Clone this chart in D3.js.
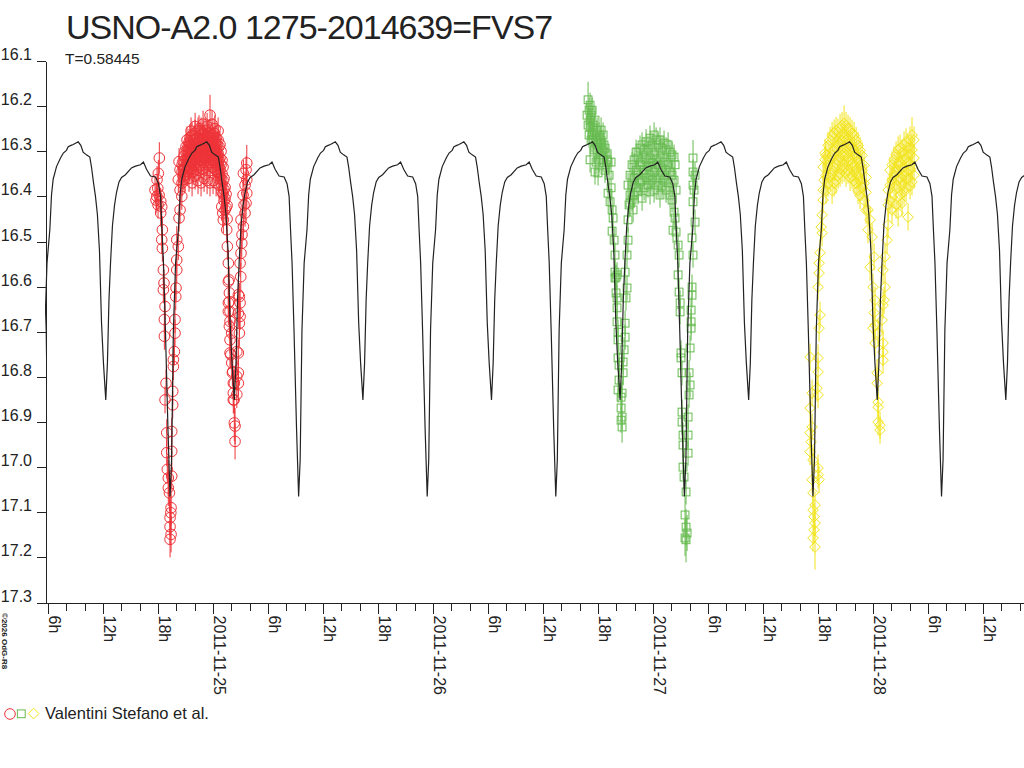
<!DOCTYPE html>
<html>
<head>
<meta charset="utf-8">
<script src="https://cdnjs.cloudflare.com/ajax/libs/d3/7.8.5/d3.min.js"></script>
<style>
body { margin:0; background:#fff; }
text { font-family: "Liberation Sans", Arial, sans-serif; fill:#222; }
</style>
</head>
<body>
<div id="chart"></div>
<script>

var title = "USNO-A2.0 1275-2014639=FVS7";
var periodLabel = "T=0.58445";
var observer = "Valentini Stefano et al.";
var copyright = "\u00a92026 OdG-R8";

var periodDays = 0.58445;
var epochMin = "2011-11-24T19:18:30Z";	// primary minimum used for the model curve
var refTime = "2011-11-25T00:00:00Z";	// observation hours are counted from here
var timeDomain = ["2011-11-24T05:40:00Z", "2011-11-28T16:28:00Z"];

var yTicks = [16.1, 16.2, 16.3, 16.4, 16.5, 16.6, 16.7, 16.8, 16.9, 17.0, 17.1, 17.2, 17.3];

// one cycle of the model light curve, phase 0 = primary minimum
var phase    = [0.000, 0.012, 0.026, 0.043, 0.065, 0.078, 0.091, 0.117, 0.148, 0.170, 0.194, 0.208, 0.230, 0.247, 0.272, 0.285, 0.306, 0.324, 0.350, 0.376, 0.389, 0.405, 0.420, 0.435, 0.451, 0.467, 0.482, 0.500, 0.513, 0.525, 0.537, 0.552, 0.568, 0.583, 0.603, 0.623, 0.653, 0.700, 0.731, 0.770, 0.793, 0.817, 0.848, 0.887, 0.910, 0.926, 0.937, 0.949, 0.964, 0.984];
var phaseMag = [17.065, 16.983, 16.696, 16.548, 16.474, 16.397, 16.362, 16.334, 16.315, 16.304, 16.298, 16.290, 16.287, 16.285, 16.281, 16.279, 16.287, 16.302, 16.308, 16.313, 16.335, 16.370, 16.400, 16.440, 16.520, 16.680, 16.769, 16.851, 16.769, 16.629, 16.548, 16.465, 16.420, 16.392, 16.368, 16.358, 16.352, 16.337, 16.333, 16.330, 16.324, 16.340, 16.355, 16.357, 16.372, 16.400, 16.474, 16.548, 16.696, 16.917];

// [hours from refTime, mag, error]
var redObs = [
[-6.33,16.386],[-6.22,16.408],[-6.11,16.363],[-6.14,16.400],[-6.03,16.382],[-6.00,16.419],[-5.97,16.349],[-5.89,16.397],[-5.86,16.315,.035],
[-5.71,16.411],[-5.60,16.423],[-5.71,16.437],[-5.53,16.474],[-5.60,16.496],[-5.53,16.515],[-5.42,16.563],[-5.35,16.592],[-5.42,16.607],
[-5.24,16.644],[-5.31,16.673],[-5.31,16.710],[-5.13,16.814],[-5.24,16.851],[-5.05,16.924],[-5.05,16.968],[-4.99,17.005],[-4.88,17.024,.04],
[-4.88,17.046,.04],[-4.76,17.057,.04],[-4.58,17.090,.04],[-4.69,17.112,.04],[-4.69,17.132,.04],[-4.58,17.149,.04],[-4.69,17.160,.04],
[-4.61,17.101,.04],[-4.51,17.020],[-4.51,16.965],[-4.51,16.921],[-4.40,16.862],[-4.40,16.832],[-4.33,16.777],[-4.33,16.762],[-4.22,16.744],
[-4.15,16.703],[-4.15,16.673],[-4.07,16.622],[-4.04,16.603],[-3.96,16.563],[-3.96,16.541],[-3.79,16.511],[-3.96,16.496],[-3.71,16.448],
[-3.60,16.430],[-3.41,16.400],[-3.60,16.386],[-3.79,16.363],[-3.60,16.341],[-3.71,16.323],
[-3.38,16.345],[-3.38,16.370],[-3.38,16.330],[-3.27,16.322],[-3.27,16.355],[-3.16,16.340],[-3.16,16.310],[-3.16,16.362],
[-3.05,16.300],[-3.05,16.335],[-3.05,16.352],[-2.95,16.318],[-2.95,16.290],[-2.95,16.345],[-2.84,16.300],[-2.84,16.330],[-2.84,16.275],
[-2.73,16.315],[-2.73,16.345],[-2.73,16.290],[-2.62,16.280],[-2.62,16.305],[-2.62,16.335],[-2.62,16.360],[-2.51,16.295],[-2.51,16.320],[-2.51,16.270],
[-2.40,16.310],[-2.40,16.340],[-2.40,16.285],[-2.40,16.255],[-2.29,16.265],[-2.29,16.300],[-2.29,16.325],[-2.29,16.370],[-2.18,16.290],[-2.18,16.315],[-2.18,16.345],
[-2.07,16.275],[-2.07,16.300],[-2.07,16.330],[-1.96,16.260],[-1.96,16.295],[-1.96,16.320],[-1.96,16.245],[-1.96,16.355],[-1.85,16.285],[-1.85,16.310],[-1.85,16.340],
[-1.75,16.270],[-1.75,16.300],[-1.75,16.325],[-1.64,16.255],[-1.64,16.290],[-1.64,16.315],[-1.64,16.365],[-1.53,16.280],[-1.53,16.305],[-1.53,16.335],[-1.53,16.250],
[-1.42,16.265],[-1.42,16.290],[-1.42,16.320],[-1.31,16.255],[-1.31,16.300],[-1.31,16.330],[-1.31,16.370],[-1.20,16.275],[-1.20,16.295],[-1.20,16.310],
[-1.09,16.260],[-1.09,16.285],[-1.09,16.340],[-1.09,16.240],[-0.98,16.270],[-0.98,16.300],[-0.98,16.325],[-0.98,16.360],[-0.87,16.255],[-0.87,16.290],[-0.87,16.315],
[-0.76,16.280],[-0.76,16.305],[-0.76,16.335],[-0.65,16.265],[-0.65,16.295],[-0.65,16.320],[-0.65,16.245],[-0.65,16.365],[-0.55,16.270],[-0.55,16.300],[-0.55,16.330],
[-0.44,16.260],[-0.44,16.285],[-0.44,16.310],[-0.33,16.270],[-0.33,16.295],[-0.33,16.325],[-0.33,16.370],[-0.33,16.220,.045],[-0.22,16.280],[-0.22,16.305],
[-0.11,16.265],[-0.11,16.290],[-0.11,16.320],[-0.11,16.240],[0.00,16.275],[0.00,16.300],[0.00,16.335],[0.00,16.365],[0.11,16.260],[0.11,16.295],[0.11,16.320],
[0.22,16.280],[0.22,16.310],[0.22,16.340],[0.22,16.250],[0.33,16.270],[0.33,16.300],[0.33,16.325],[0.33,16.370],[0.44,16.285],[0.44,16.315],[0.44,16.345],
[0.55,16.275],[0.55,16.305],[0.55,16.330],[0.55,16.255],[0.65,16.290],[0.65,16.320],[0.65,16.350],[0.65,16.375],[0.76,16.285],[0.76,16.315],[0.76,16.340],
[0.87,16.300],[0.87,16.330],[0.87,16.360],[0.98,16.320],[0.98,16.350],[0.98,16.375],[0.98,16.390],[1.09,16.335],[1.09,16.365],[1.09,16.395],
[1.20,16.360],[1.20,16.385],[1.20,16.410],[1.31,16.380],[1.31,16.405],[1.31,16.430],[1.42,16.395],[1.42,16.425],[1.53,16.420],[1.53,16.450],
[0.95,16.423],[1.06,16.437],[1.12,16.452],[1.49,16.474],[1.56,16.511],[1.67,16.548],[1.75,16.585],[1.67,16.589],[1.78,16.614],[1.78,16.633],
[1.67,16.636],[1.67,16.655],[1.85,16.655],[1.85,16.677],[1.78,16.688],[2.04,16.703],[1.85,16.718],[1.85,16.747],[1.93,16.751],[2.04,16.769],
[2.11,16.791],[2.15,16.788],[2.21,16.814],[2.32,16.814],[2.21,16.836],[2.21,16.851],[2.29,16.851],[2.32,16.902,.04],[2.40,16.909,.04],[2.40,16.943,.04],
[2.59,16.839],[2.59,16.799],[2.59,16.744],[2.76,16.814],[2.76,16.791],[2.76,16.747],[2.87,16.703],[2.87,16.681],[2.95,16.666],[2.76,16.659],
[2.95,16.636],[2.76,16.618],[2.87,16.622],[3.02,16.578],[2.95,16.548],[3.05,16.526],[3.13,16.504],[3.31,16.467],[3.49,16.437],[3.60,16.415],
[3.68,16.393],[3.68,16.363],[3.60,16.341],[3.68,16.326,.04],[3.31,16.349],[3.16,16.485],[3.38,16.419],[3.27,16.397],[3.49,16.375],[3.05,16.452]
];

var greenObs = [
[40.80,16.220],[40.91,16.186,.04],[40.91,16.242],[41.02,16.209],[41.02,16.264],[41.13,16.198],[41.13,16.231],[41.13,16.246],[41.13,16.319],
[41.24,16.220],[41.24,16.275],[41.35,16.264],[41.35,16.209],[41.45,16.275],[41.45,16.242],[41.56,16.253],[41.56,16.297],[41.67,16.231],
[41.67,16.346],[41.78,16.275],[41.78,16.324],[41.89,16.253],[41.89,16.297],[42.00,16.348],[42.00,16.286],[42.11,16.264],[42.11,16.319],
[42.22,16.275],[42.22,16.308],[42.33,16.253],[42.33,16.282],[42.44,16.297],[42.55,16.264],[42.55,16.319],[42.65,16.286],[42.76,16.293],
[42.76,16.342],[42.87,16.304],[42.87,16.330],[42.98,16.319],[43.09,16.324],[43.09,16.393],[43.20,16.353],[43.31,16.412],[43.42,16.324],
[43.42,16.381],[43.53,16.430],[43.53,16.477],[43.64,16.448],[43.75,16.497],[43.85,16.530],[43.85,16.568],[43.85,16.581],[43.96,16.579],
[43.96,16.614],[44.07,16.574],[44.07,16.625],[44.07,16.647],[44.07,16.678],[44.18,16.701],[44.18,16.718],[44.18,16.758],[44.29,16.774],
[44.29,16.807],[44.18,16.829],[44.51,16.845],[44.51,16.869],[44.62,16.889],[44.62,16.911,.035],[44.51,16.896],
[44.62,16.836],[44.73,16.791],[44.73,16.767],[44.84,16.740],[44.95,16.712],[44.95,16.681],[45.05,16.625],[45.16,16.603],[44.95,16.568],
[45.16,16.530],[45.27,16.497],[45.27,16.452],[45.38,16.419],[45.27,16.375],[45.49,16.415],[45.82,16.430],
[45.49,16.353],[45.49,16.397],[45.71,16.330],[45.71,16.375],[45.71,16.408],[45.93,16.319],[45.93,16.359],[45.93,16.397],
[46.15,16.302],[46.15,16.342],[46.15,16.381],[46.36,16.315],[46.36,16.353],[46.36,16.390],[46.58,16.293],[46.58,16.330],[46.58,16.368],
[46.80,16.286],[46.80,16.324],[46.80,16.364],[46.80,16.404],[47.02,16.297],[47.02,16.342],[47.02,16.381],[47.24,16.279],[47.24,16.319],
[47.24,16.359],[47.45,16.293],[47.45,16.333],[47.45,16.375],[47.67,16.271],[47.67,16.315],[47.67,16.353],[47.67,16.390],[47.89,16.286],
[47.89,16.326],[47.89,16.364],[48.11,16.264],[48.11,16.308],[48.11,16.346],[48.11,16.386],[48.33,16.275],[48.33,16.319],[48.33,16.359],
[48.55,16.286],[48.55,16.330],[48.55,16.375],[48.76,16.275],[48.76,16.315],[48.76,16.353],[48.76,16.397],[48.98,16.293],[48.98,16.337],
[48.98,16.377],[49.20,16.282],[49.20,16.324],[49.20,16.364],[49.42,16.297],[49.42,16.342],[49.42,16.386],[49.64,16.286],[49.64,16.330],
[49.64,16.370],[49.85,16.302],[49.85,16.346],[49.85,16.397],[50.07,16.308],[50.07,16.353],[50.07,16.408],[50.29,16.313],[50.29,16.364],
[50.29,16.435],[50.40,16.448],[50.40,16.330],[50.51,16.479],[50.51,16.386],[50.18,16.475],
[50.73,16.574],[50.84,16.612],[50.95,16.636],[50.95,16.656],[50.84,16.530],[50.73,16.508],[51.05,16.747],[51.05,16.758],[51.16,16.791],
[51.16,16.878],[51.16,16.900],[51.27,16.929],[51.27,16.951],[51.27,17.000],[51.38,17.022],[51.60,17.055],[51.49,17.106,.04],[51.60,17.133,.04],
[51.71,17.146,.04],[51.49,17.157,.04],[51.60,17.161,.05],
[51.82,16.969],[51.82,16.929],[51.82,16.889],[51.93,16.840],[52.04,16.818],[51.93,16.791],[52.04,16.736],[52.15,16.692],[52.15,16.678],
[52.15,16.652],[52.25,16.619],[52.25,16.601],[52.36,16.530],[52.25,16.492],[52.58,16.457],[52.36,16.412],[52.36,16.375],[52.36,16.346],
[52.36,16.315,.04],[52.47,16.386],[52.58,16.353]
];

var yellowObs = [
[65.13,16.756],[65.35,16.836],[65.13,16.869],[65.35,16.911],[65.13,16.924],[65.24,16.944],[65.13,16.966],[65.45,16.984],[65.35,17.028],
[65.45,17.057],[65.67,17.084],[65.56,17.110],[65.67,17.124],[65.45,17.157],[65.67,17.177,.05],[65.56,17.139],[65.45,17.095],
[66.00,17.002],[66.00,17.017],[66.11,17.028],[65.89,16.825],[66.00,16.840],[66.00,16.789],[66.00,16.758],[66.11,16.692],[66.22,16.663],
[66.00,16.601],[66.11,16.570],[66.11,16.548],[66.22,16.525],[66.44,16.481],[66.33,16.468],[66.44,16.441],[66.55,16.408],[66.55,16.386],
[66.65,16.364],[66.55,16.335],[66.76,16.319],[66.76,16.304],
[66.87,16.309],[66.87,16.354],[66.87,16.387],[67.09,16.287],[67.09,16.331],[67.09,16.371],[67.31,16.276],[67.31,16.320],[67.31,16.358],
[67.53,16.265],[67.53,16.309],[67.53,16.349],[67.53,16.387],[67.75,16.260],[67.75,16.298],[67.75,16.336],[67.75,16.371],
[67.96,16.254],[67.96,16.291],[67.96,16.327],[67.96,16.365],[68.18,16.258],[68.18,16.287],[68.18,16.320],[68.18,16.354],
[68.40,16.247],[68.40,16.283],[68.40,16.314],[68.40,16.349],[68.62,16.243],[68.62,16.276],[68.62,16.309],[68.62,16.342],
[68.84,16.238,.04],[68.84,16.269],[68.84,16.305],[68.84,16.338],[69.05,16.243],[69.05,16.276],[69.05,16.309],[69.05,16.349],
[69.27,16.249],[69.27,16.283],[69.27,16.314],[69.27,16.342],[69.49,16.254],[69.49,16.287],[69.49,16.320],[69.49,16.358],
[69.71,16.260],[69.71,16.291],[69.71,16.327],[69.71,16.354],[69.93,16.265],[69.93,16.298],[69.93,16.331],[69.93,16.365],
[70.15,16.276],[70.15,16.309],[70.15,16.342],[70.15,16.371],[70.36,16.287],[70.36,16.320],[70.36,16.354],[70.36,16.387],
[70.58,16.298],[70.58,16.331],[70.58,16.365],[70.58,16.398],[70.80,16.309],[70.80,16.342],[70.80,16.380],
[71.02,16.331],[71.02,16.371],[71.02,16.409],[71.24,16.358],[71.24,16.391],[71.24,16.431],
[71.45,16.430],[71.67,16.452],[71.45,16.474],[71.89,16.490],[72.11,16.534],[71.67,16.557],[72.00,16.601],[72.22,16.630],[72.11,16.658],
[72.22,16.685],[72.00,16.692],[72.55,16.703],[72.22,16.725],[72.44,16.791],[72.44,16.814],[72.55,16.856],[72.55,16.867],[72.55,16.900],
[72.76,16.907],[72.76,16.918],
[73.09,16.641],[72.98,16.674],[73.09,16.725],[73.09,16.745],[73.09,16.763],[73.20,16.630],[73.31,16.601],[73.09,16.563],[73.31,16.534],
[73.53,16.497],[73.64,16.463],
[73.64,16.386],[73.64,16.419],[73.85,16.342],[73.85,16.375],[73.85,16.408],[74.07,16.330],[74.07,16.364],[74.07,16.430],
[74.29,16.319],[74.29,16.353],[74.29,16.397],[74.51,16.308],[74.51,16.342],[74.51,16.375],[74.51,16.419],
[74.73,16.297],[74.73,16.330],[74.73,16.364],[74.73,16.437],[74.95,16.293],[74.95,16.324],[74.95,16.359],[74.95,16.397],
[75.16,16.304],[75.16,16.337],[75.16,16.375],[75.16,16.415],[75.38,16.286],[75.38,16.319],[75.38,16.355],[75.38,16.390],
[75.60,16.279],[75.60,16.315],[75.60,16.346],[75.60,16.381],[75.82,16.291],[75.82,16.324],[75.82,16.359],[75.82,16.446],
[76.04,16.275],[76.04,16.308],[76.04,16.342],[76.04,16.377],[76.25,16.264,.04],[76.25,16.297],[76.25,16.335],[76.25,16.368],
[76.47,16.275],[76.47,16.315],[76.47,16.353]
];

var redColor = "#ee3338", greenColor = "#66bb4f", yellowColor = "#f2e41e";

var width = 1024, height = 768;
var plotLeft = 45, plotTop = 61, plotBottom = 602.5;
var axisFont = "Liberation Sans, Arial, sans-serif";

var svg = d3.select("#chart")
	.append("svg")
	.attr("width", width)
	.attr("height", height)
	.style("display", "block");

var x = d3.scaleUtc()
	.domain(timeDomain.map(function(d) { return new Date(d); }))
	.range([plotLeft, width]);

var y = d3.scaleLinear()
	.domain([16.1, 17.3])
	.range([plotTop, plotBottom]);

var ref = new Date(refTime).getTime();
function obsTime(h) { return new Date(ref + h * 36e5); }

// model curve, one template cycle repeated with the period
var epoch = new Date(epochMin).getTime();
var periodMs = periodDays * 864e5;
var model = [];
for (var k = -2; k <= 7; k++) {
	for (var i = 0; i < phase.length; i++) {
		model.push({ t: new Date(epoch + (k + phase[i]) * periodMs), m: phaseMag[i] });
	}
}

svg.append("clipPath")
	.attr("id", "plotclip")
	.append("rect")
	.attr("x", plotLeft)
	.attr("y", plotTop - 5)
	.attr("width", width - plotLeft)
	.attr("height", plotBottom - plotTop + 5);

function marker(sel, shape, color) {
	if (shape == "circle") {
		sel.append("circle").attr("r", 5.3);
	} else if (shape == "square") {
		sel.append("rect").attr("x", -3.9).attr("y", -3.9).attr("width", 7.8).attr("height", 7.8);
	} else {
		sel.append("path").attr("d", "M0,-5.3L5.3,0L0,5.3L-5.3,0Z");
	}
	sel.selectAll("circle,rect,path")
		.attr("fill", "none")
		.attr("stroke", color)
		.attr("stroke-width", 1);
}

function drawSeries(data, shape, color, defErr) {
	var g = svg.append("g");

	g.selectAll(".err")
		.data(data)
		.enter().append("line")
		.attr("class", "err")
		.attr("x1", function(d) { return x(obsTime(d[0])); })
		.attr("x2", function(d) { return x(obsTime(d[0])); })
		.attr("y1", function(d) { return y(d[1] - (d[2] || defErr)); })
		.attr("y2", function(d) { return y(d[1] + (d[2] || defErr)); })
		.attr("stroke", color)
		.attr("stroke-width", 1);

	g.selectAll(".pt")
		.data(data)
		.enter().append("g")
		.attr("class", "pt")
		.attr("transform", function(d) { return "translate(" + x(obsTime(d[0])) + "," + y(d[1]) + ")"; })
		.each(function() { marker(d3.select(this), shape, color); });
}

drawSeries(redObs, "circle", redColor, 0.03);
drawSeries(greenObs, "square", greenColor, 0.028);
drawSeries(yellowObs, "diamond", yellowColor, 0.03);

var line = d3.line()
	.x(function(d) { return x(d.t); })
	.y(function(d) { return y(d.m); });

svg.append("path")
	.datum(model)
	.attr("clip-path", "url(#plotclip)")
	.attr("d", line)
	.attr("fill", "none")
	.attr("stroke", "#222")
	.attr("stroke-width", 1.2);

// axes
var yAxis = d3.axisLeft(y)
	.tickValues(yTicks)
	.tickSize(9)
	.tickSizeOuter(0)
	.tickFormat(d3.format(".1f"));

var gy = svg.append("g")
	.attr("transform", "translate(" + (plotLeft + 0.5) + ",0)")
	.call(yAxis)
	.attr("color", "#222")
	.attr("font-size", 16)
	.attr("font-family", axisFont);
gy.selectAll(".tick text")
	.attr("x", -13.5)
	.attr("dy", -1.5);
gy.selectAll("line, path").attr("shape-rendering", "crispEdges");

var xAxis = d3.axisBottom(x)
	.ticks(d3.utcHour.every(2))
	.tickSize(8.5)
	.tickSizeOuter(0)
	.tickFormat(function(d) {
		var h = d.getUTCHours();
		if (h % 6) return "";
		return h ? h + "h" : d3.utcFormat("%Y-%m-%d")(d);
	});

var gx = svg.append("g")
	.attr("transform", "translate(0," + (plotBottom) + ")")
	.call(xAxis)
	.attr("color", "#222")
	.attr("font-size", 16)
	.attr("font-family", axisFont);
gx.selectAll(".tick")
	.filter(function(d) { return d.getUTCHours() % 6 == 0; })
	.select("line")
	.attr("y2", 11.5);
gx.selectAll(".tick text")
	.attr("transform", "rotate(90)")
	.attr("x", 13)
	.attr("y", -0.5)
	.attr("dy", 0)
	.style("text-anchor", "start");
gx.selectAll("line, path").attr("shape-rendering", "crispEdges");

// texts
svg.append("text")
	.attr("x", 66)
	.attr("y", 39)
	.attr("font-size", 34)
	.attr("letter-spacing", -1)
	.text(title);

svg.append("text")
	.attr("x", 65)
	.attr("y", 64)
	.attr("font-size", 15.5)
	.text(periodLabel);

svg.append("text")
	.attr("transform", "translate(1.5,613) rotate(90)")
	.attr("font-size", 8)
	.attr("font-weight", "bold")
	.text(copyright);

// legend
var lg = svg.append("g");
marker(lg.append("g").attr("transform", "translate(10,714)"), "circle", redColor);
marker(lg.append("g").attr("transform", "translate(21.3,713.8)"), "square", greenColor);
marker(lg.append("g").attr("transform", "translate(33.6,713.6)"), "diamond", yellowColor);
lg.append("text")
	.attr("x", 45)
	.attr("y", 718.5)
	.attr("font-size", 16.5)
	.text(observer);

</script>
</body>
</html>
